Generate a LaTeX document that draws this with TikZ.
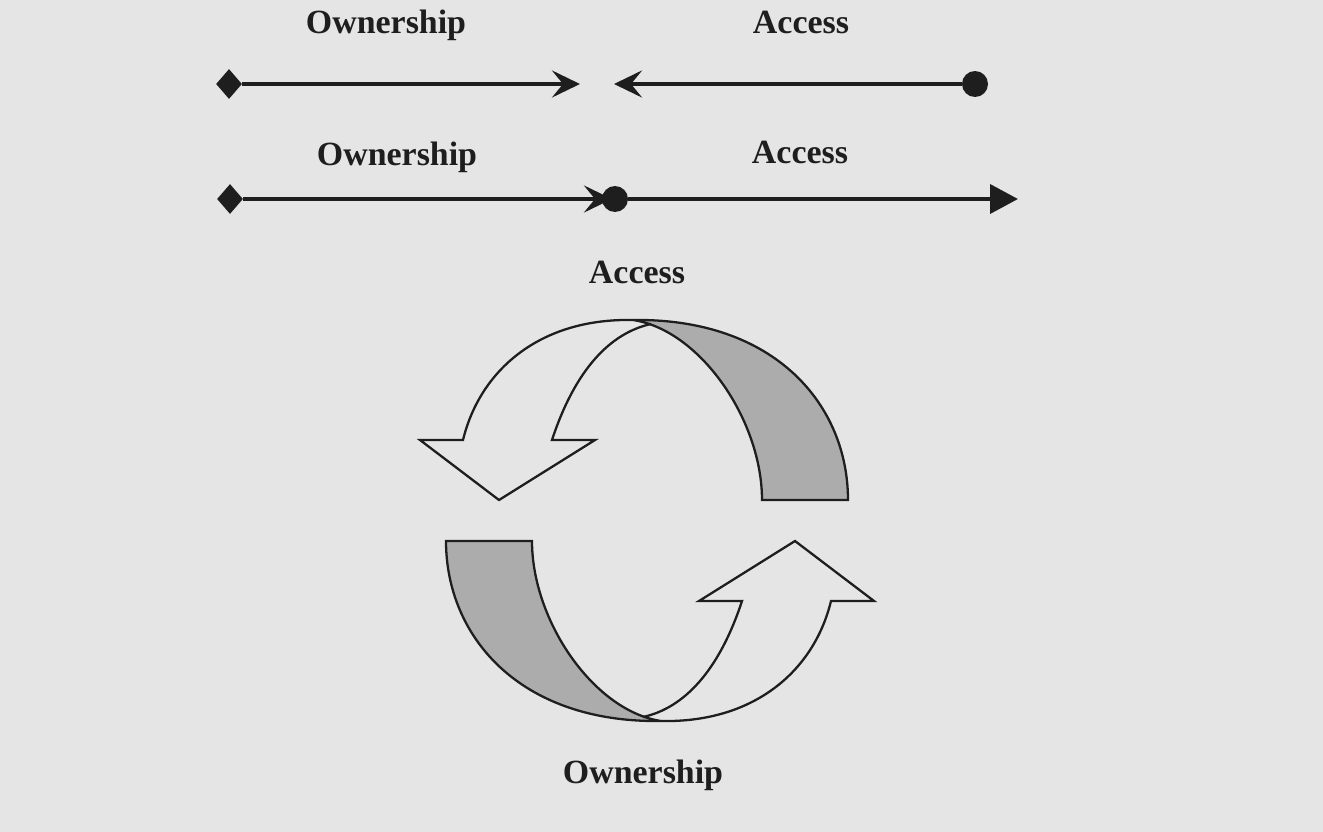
\documentclass[tikz,border=0pt]{standalone}
\usepackage{fontspec}
\setmainfont{Liberation Serif}
\usetikzlibrary{arrows.meta,shapes.geometric}
\definecolor{bg}{RGB}{229,229,229}
\definecolor{ink}{RGB}{30,30,30}
\definecolor{band}{RGB}{172,172,172}
\begin{document}
\begin{tikzpicture}[x=0.02cm,y=-0.02cm,
  lbl/.style={font=\fontsize{19.3}{23}\selectfont\bfseries, text=ink, anchor=base, inner sep=0pt},
  diam/.style={diamond, fill=ink, draw=none, minimum width=0.52cm, minimum height=0.6cm, inner sep=0pt},
  dot/.style={circle, fill=ink, draw=none, minimum size=0.52cm, inner sep=0pt},
  conn/.style={draw=ink, line width=2.2pt},
  barb/.style={-{Stealth[length=0.56cm,width=0.54cm,inset=0.22cm]}},
  tri/.style={-{Triangle[length=0.56cm,width=0.58cm]}},
  ribbon/.style={draw=ink, line width=1.3pt, line join=miter},
]
\fill[bg] (0,0) rectangle (1323,832);
\useasboundingbox (0,0) rectangle (1323,832);

% labels
\node[lbl] (own1) at (386,33) {Ownership};
\node[lbl] (acc1) at (801,33) {Access};
\node[lbl] (own2) at (397,165) {Ownership};
\node[lbl] (acc2) at (800,163) {Access};
\node[lbl] (acc3) at (637,283) {Access};
\node[lbl] (own3) at (643,783) {Ownership};

% line 1
\node[diam] (d1) at (229,84) {};
\node[dot] (c1) at (975,84) {};
\coordinate (t1) at (580,84);
\coordinate (t2) at (614,84);
\draw[conn,barb] (d1) -- (t1);
\draw[conn,barb] (c1) -- (t2);

% line 2
\node[diam] (d2) at (230,199) {};
\coordinate (t3) at (612,199);
\draw[conn,barb] (d2) -- (t3);
\node[dot] (c2) at (615,199) {};
\coordinate (t4) at (1018,199);
\draw[conn,tri] (c2) -- (t4);

% cycle of two twisted arrows
\foreach \a in {0,180}{
  \begin{scope}[rotate around={\a:(647,520.5)}]
    \filldraw[ribbon, fill=band] (633,320) .. controls (775,318) and (848,405) .. (848,500)
      -- (762,500) .. controls (762,420) and (700,330) .. (633,320) -- cycle;
    \draw[ribbon] (633,320) .. controls (540,318) and (480,370) .. (463,440)
      -- (420,440) -- (499,500) -- (595,440) -- (552,440)
      .. controls (575,370) and (610,333) .. (651,324);
  \end{scope}
}
\end{tikzpicture}
\end{document}
